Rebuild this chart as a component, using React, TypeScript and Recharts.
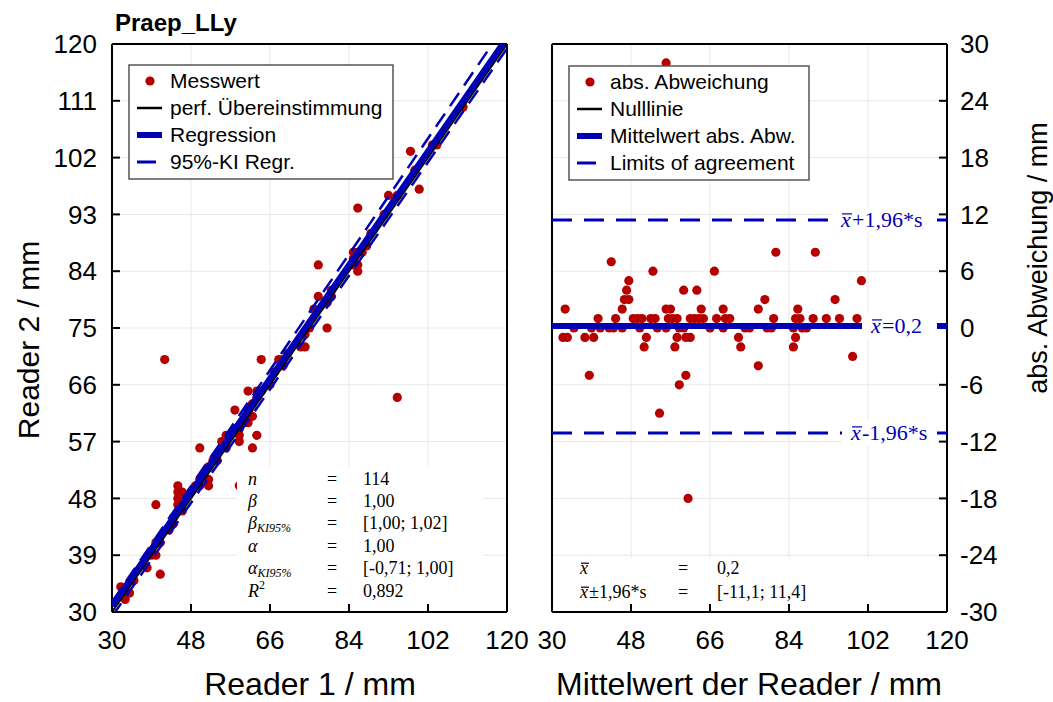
import React from 'react';
import { ScatterChart, Scatter, XAxis, YAxis, CartesianGrid } from 'recharts';

// Messwerte beider Reader in mm (Index i gehört jeweils zusammen)
const reader1 = [
  42, 77, 86, 40, 50, 64, 45, 98, 45, 58, 61, 45, 46, 77, 93,
  32, 45, 55, 56, 63, 68, 76, 85,
  40, 44, 48, 49, 50, 52, 53, 56, 57, 58, 61, 62, 63, 64, 67, 69, 70, 80, 85, 86, 89, 92, 95, 99, 103,
  35, 39, 41, 43, 44, 46, 50, 54, 56, 59, 60, 66, 69, 74, 75, 79, 80, 85, 87, 88, 104, 110,
  33, 34, 38, 40, 52, 59, 61, 62, 73, 86,
  52, 59, 74, 86,
  100, 79, 41, 63, 62, 59, 70, 95,
];
const reader2 = [
  70, 85, 94, 47, 56, 70, 50, 103, 49, 62, 65, 48, 49, 80, 96,
  34, 47, 57, 58, 65, 70, 78, 87,
  41, 45, 49, 50, 51, 53, 54, 57, 58, 59, 62, 63, 64, 65, 68, 70, 71, 81, 86, 87, 90, 93, 96, 100, 104,
  35, 39, 41, 43, 44, 46, 50, 54, 56, 59, 60, 66, 69, 74, 75, 79, 80, 85, 87, 88, 104, 110,
  32, 33, 37, 39, 51, 58, 60, 61, 72, 85,
  50, 57, 72, 84,
  97, 75, 36, 58, 56, 50, 52, 64,
];

const readerTicks = [30, 48, 66, 84, 102, 120];
const reader2Ticks = [30, 39, 48, 57, 66, 75, 84, 93, 102, 111, 120];
const diffTicks = [-30, -24, -18, -12, -6, 0, 6, 12, 18, 24, 30];

// Kennwerte Regression
const nTotal = 114;
const beta = 1.0;
const betaCi = [1.0, 1.02];
const alpha = 1.0;
const alphaCi = [-0.71, 1.0];
const rSquared = 0.892;

// Kennwerte Bland-Altman
const meanDiff = 0.2;
const loa = [-11.1, 11.4];

const RED = '#b60000';
const BLUE = '#0000b4';
const FONT = '"Liberation Sans", Arial, sans-serif';
const SERIF = '"Liberation Serif", "DejaVu Serif", serif';

const X_MIN = 30;
const X_MAX = 120;

const pairs = reader1.map((r1, i) => ({ x: r1, y: reader2[i] }));
const blandAltman = reader1.map((r1, i) => ({ x: (r1 + reader2[i]) / 2, y: reader2[i] - r1 }));

const fmt = (v: number, d: number) => v.toFixed(d).replace('.', ',');
// Gerade y = slope*x + intercept über den ganzen x-Bereich
const line = (slope: number, intercept: number) => [
  { x: X_MIN, y: slope * X_MIN + intercept },
  { x: X_MAX, y: slope * X_MAX + intercept },
];
const hline = (y: number) => line(0, y);

const labelPoints = [
  { x: X_MAX, y: loa[1], kind: 'hi' },
  { x: X_MAX, y: meanDiff, kind: 'mean' },
  { x: X_MAX, y: loa[0], kind: 'lo' },
];

const axisStroke = { stroke: '#000', strokeWidth: 2 };
const tickFont = { fill: '#000', fontSize: 26, fontFamily: FONT };

const renderDot = (p: any) => <circle cx={p.cx} cy={p.cy} r={4.6} fill={RED} />;
const noDot = () => <g />;

// x mit Querstrich (Mittelwert), Strich von Hand gezogen
const XBar = ({ x, y, size, color = '#000' }: { x: number; y: number; size: number; color?: string }) => (
  <g>
    <text x={x} y={y} fontSize={size} fontStyle="italic" fontFamily={SERIF} fill={color}>x</text>
    <line x1={x + 1} x2={x + size * 0.5} y1={y - size * 0.6} y2={y - size * 0.6} stroke={color} strokeWidth={1.2} />
  </g>
);

// Beschriftung der Mittelwert- und LoA-Linien, rechtsbündig vor der y-Achse
const renderLineLabel = (p: any) => {
  const kind = p.payload.kind;
  const textW = kind === 'mean' ? 56 : kind === 'hi' ? 86 : 76;
  const start = p.cx - 20 - textW;
  const y = p.cy;
  const rest = kind === 'mean' ? `=${fmt(meanDiff, 1)}` : kind === 'hi' ? '+1,96*s' : '-1,96*s';
  return (
    <g>
      <rect x={start - 9} y={y - 13} width={textW + 19} height={26} fill="#fff" />
      <XBar x={start} y={y + 7} size={22} color={BLUE} />
      <text x={start + 11} y={y + 7} fill={BLUE} fontSize={22} fontFamily={SERIF}>{rest}</text>
    </g>
  );
};

type LegendItem = { label: string; kind: 'dot' | 'black' | 'thick' | 'dash' };

const Legend = ({ x, y, w, items }: { x: number; y: number; w: number; items: LegendItem[] }) => (
  <g>
    <rect x={x} y={y} width={w} height={114} fill="#fff" stroke="#555" strokeWidth={1.5} />
    {items.map((it, i) => {
      const cy = y + 16 + i * 27;
      const sx = x + 8;
      return (
        <g key={it.label}>
          {it.kind === 'dot' && <circle cx={sx + 13} cy={cy} r={4.6} fill={RED} />}
          {it.kind === 'black' && <line x1={sx} x2={sx + 25} y1={cy} y2={cy} stroke="#000" strokeWidth={2.5} />}
          {it.kind === 'thick' && <line x1={sx} x2={sx + 25} y1={cy} y2={cy} stroke={BLUE} strokeWidth={6} />}
          {it.kind === 'dash' && <line x1={sx} x2={sx + 19} y1={cy} y2={cy} stroke={BLUE} strokeWidth={3} />}
          <text x={x + 41} y={cy + 7} fontSize={21} fontFamily={FONT} fill="#000">
            {it.label}
          </text>
        </g>
      );
    })}
  </g>
);

const StatRow = ({ y, sym, val, x1 = 327, x2 = 363 }: any) => (
  <g fontFamily={SERIF} fontSize={18} fill="#000">
    {sym}
    <text x={x1} y={y}>=</text>
    <text x={x2} y={y}>{val}</text>
  </g>
);

const sym = (y: number, children: React.ReactNode) => (
  <text x={248} y={y} fontStyle="italic">{children}</text>
);

const Frame = ({ ticksY, domainY, labelSide }: { ticksY: number[]; domainY: [number, number]; labelSide: 'left' | 'right' }) => (
  <>
    <CartesianGrid stroke="#e8e8e8" strokeWidth={1} />
    <XAxis type="number" dataKey="x" domain={[X_MIN, X_MAX]} ticks={readerTicks} interval={0} height={60}
      allowDataOverflow tickSize={-8} tickMargin={27} axisLine={axisStroke} tickLine={axisStroke} tick={tickFont} />
    <XAxis xAxisId="top" orientation="top" type="number" domain={[X_MIN, X_MAX]} ticks={readerTicks} interval={0}
      height={1} tickSize={-8} tick={false} axisLine={axisStroke} tickLine={axisStroke} />
    <YAxis orientation={labelSide} type="number" dataKey="y" domain={domainY} ticks={ticksY} interval={0}
      width={labelSide === 'left' ? 100 : 60} allowDataOverflow tickSize={-8} tickMargin={labelSide === 'left' ? 23 : 21}
      axisLine={axisStroke} tickLine={axisStroke} tick={tickFont} />
    <YAxis yAxisId="mirror" orientation={labelSide === 'left' ? 'right' : 'left'} type="number" domain={domainY}
      ticks={ticksY} interval={0} width={1} tickSize={-8} tick={false} axisLine={axisStroke} tickLine={axisStroke} />
  </>
);

export default function App() {
  return (
    <div style={{ position: 'absolute', left: 0, top: 0, width: 1053, height: 702, background: '#fff', fontFamily: FONT }}>
      {/* Regression Reader 1 vs Reader 2 */}
      <div style={{ position: 'absolute', left: 0, top: 0 }}>
        <ScatterChart width={530} height={702} margin={{ top: 43, right: 22, bottom: 30, left: 12 }}>
          {Frame({ ticksY: reader2Ticks, domainY: [30, 120], labelSide: 'left' })}
          <Scatter data={pairs} shape={renderDot} isAnimationActive={false} />
          <Scatter data={line(1, 0)} shape={noDot} line={{ stroke: '#000', strokeWidth: 2 }} isAnimationActive={false} />
          <Scatter data={line(beta, alpha)} shape={noDot} line={{ stroke: BLUE, strokeWidth: 6 }} isAnimationActive={false} />
          <Scatter data={line(betaCi[1], alphaCi[1])} shape={noDot}
            line={{ stroke: BLUE, strokeWidth: 2.5, strokeDasharray: '16 9' }} isAnimationActive={false} />
          <Scatter data={line(betaCi[0], alphaCi[0])} shape={noDot}
            line={{ stroke: BLUE, strokeWidth: 2.5, strokeDasharray: '16 9' }} isAnimationActive={false} />
        </ScatterChart>
      </div>

      {/* Bland-Altman */}
      <div style={{ position: 'absolute', left: 530, top: 0 }}>
        <ScatterChart width={523} height={702} margin={{ top: 43, right: 46, bottom: 30, left: 21 }}>
          {Frame({ ticksY: diffTicks, domainY: [-30, 30], labelSide: 'right' })}
          <Scatter data={blandAltman} shape={renderDot} isAnimationActive={false} />
          <Scatter data={hline(0)} shape={noDot} line={{ stroke: '#000', strokeWidth: 2 }} isAnimationActive={false} />
          <Scatter data={hline(meanDiff)} shape={noDot} line={{ stroke: BLUE, strokeWidth: 6 }} isAnimationActive={false} />
          <Scatter data={hline(loa[1])} shape={noDot}
            line={{ stroke: BLUE, strokeWidth: 3, strokeDasharray: '20 12' }} isAnimationActive={false} />
          <Scatter data={hline(loa[0])} shape={noDot}
            line={{ stroke: BLUE, strokeWidth: 3, strokeDasharray: '20 12' }} isAnimationActive={false} />
          <Scatter data={labelPoints} shape={renderLineLabel} isAnimationActive={false} />
        </ScatterChart>
      </div>

      {/* Titel, Achsenbeschriftungen, Legenden, Kennwerte */}
      <svg width={1053} height={702} style={{ position: 'absolute', left: 0, top: 0, pointerEvents: 'none' }}>
        <text x={115} y={31} fontSize={24} fontWeight="bold" fontFamily={FONT}>Praep_LLy</text>
        <text x={310} y={695} fontSize={32} fontFamily={FONT} textAnchor="middle">Reader 1 / mm</text>
        <text x={749} y={695} fontSize={32} fontFamily={FONT} textAnchor="middle">Mittelwert der Reader / mm</text>
        <text transform="translate(39,340) rotate(-90)" fontSize={30} fontFamily={FONT} textAnchor="middle">Reader 2 / mm</text>
        <text transform="translate(1047,258) rotate(-90)" fontSize={27} fontFamily={FONT} textAnchor="middle">abs. Abweichung / mm</text>

        <Legend x={129} y={65} w={264} items={[
          { label: 'Messwert', kind: 'dot' },
          { label: 'perf. Übereinstimmung', kind: 'black' },
          { label: 'Regression', kind: 'thick' },
          { label: '95%-KI Regr.', kind: 'dash' },
        ]} />
        <Legend x={569} y={66} w={240} items={[
          { label: 'abs. Abweichung', kind: 'dot' },
          { label: 'Nulllinie', kind: 'black' },
          { label: 'Mittelwert abs. Abw.', kind: 'thick' },
          { label: 'Limits of agreement', kind: 'dash' },
        ]} />

        <rect x={237} y={467} width={246} height={137} fill="#fff" />
        <StatRow y={485} sym={sym(485, 'n')} val={String(nTotal)} />
        <StatRow y={507} sym={sym(507, 'β')} val={fmt(beta, 2)} />
        <StatRow y={529} sym={sym(529, <>β<tspan fontSize={12} dy={3}>KI95%</tspan></>)}
          val={`[${fmt(betaCi[0], 2)}; ${fmt(betaCi[1], 2)}]`} />
        <StatRow y={551.5} sym={sym(551.5, 'α')} val={fmt(alpha, 2)} />
        <StatRow y={573.5} sym={sym(573.5, <>α<tspan fontSize={12} dy={3}>KI95%</tspan></>)}
          val={`[${fmt(alphaCi[0], 2)}; ${fmt(alphaCi[1], 2)}]`} />
        <StatRow y={597} sym={sym(597, <>R<tspan fontStyle="normal" fontSize={12} dy={-8}>2</tspan></>)} val={fmt(rSquared, 3)} />

        <rect x={566} y={558} width={372} height={46} fill="#fff" />
        <StatRow y={574} x1={678} x2={717} sym={<XBar x={580} y={574} size={18} />} val={fmt(meanDiff, 1)} />
        <StatRow y={598} x1={678} x2={717}
          sym={<><XBar x={580} y={598} size={18} /><text x={589} y={598}>±1,96*s</text></>}
          val={`[${fmt(loa[0], 1)}; ${fmt(loa[1], 1)}]`} />
      </svg>
    </div>
  );
}
